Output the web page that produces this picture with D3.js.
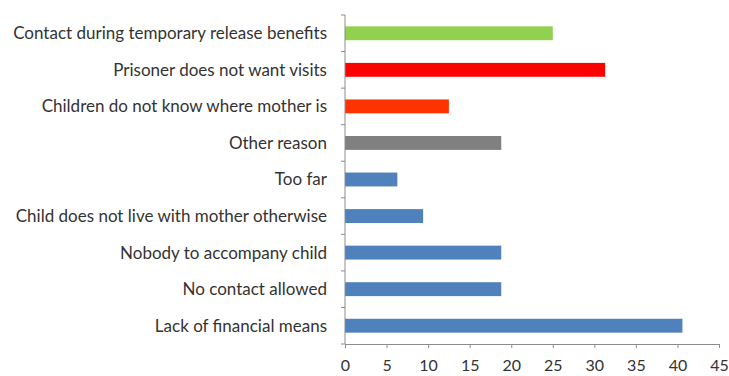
<!DOCTYPE html>
<html>
<head>
<meta charset="utf-8">
<script src="https://cdn.jsdelivr.net/npm/d3@7"></script>
<style>
  html, body { margin: 0; padding: 0; background: #fff; }
  svg { display: block; }
  text { font-family: Lato, "Open Sans", sans-serif; fill: #333; }
</style>
</head>
<body>
<svg id="chart" width="729" height="376"></svg>
<script>
// Reasons for lack of visits (percent), bottom to top as drawn
const categories = [
  "Lack of financial means",
  "No contact allowed",
  "Nobody to accompany child",
  "Child does not live with mother otherwise",
  "Too far",
  "Other reason",
  "Children do not know where mother is",
  "Prisoner does not want visits",
  "Contact during temporary release benefits"
];
const values = [40.6, 18.8, 18.8, 9.4, 6.3, 18.8, 12.5, 31.3, 25.0];
const barColors = ["#4f81bd", "#4f81bd", "#4f81bd", "#4f81bd", "#4f81bd",
                   "#808080", "#ff3300", "#ff0000", "#92d050"];
const xTicks = [0, 5, 10, 15, 20, 25, 30, 35, 40, 45];

const svg = d3.select("#chart");
const plot = { left: 345, right: 719, top: 15, bottom: 344 };

const x = d3.scaleLinear().domain([0, 45]).range([plot.left, plot.right]);
const y = d3.scaleBand()
  .domain(categories.slice().reverse())
  .range([plot.top, plot.bottom])
  .paddingInner(0.62)
  .paddingOuter(0.31);

const rows = categories.map((c, i) => ({ c, v: values[i], col: barColors[i] }));

svg.append("g").selectAll("rect").data(rows).join("rect")
  .attr("x", x(0))
  .attr("y", d => y(d.c))
  .attr("width", d => x(d.v) - x(0))
  .attr("height", y.bandwidth())
  .attr("fill", d => d.col);

// x axis
const xAxis = svg.append("g")
  .attr("transform", `translate(0,${plot.bottom})`)
  .call(d3.axisBottom(x).tickValues(xTicks).tickSize(4).tickPadding(12));
xAxis.select(".domain").attr("stroke", "#8c8c8c");
xAxis.selectAll(".tick line").attr("stroke", "#8c8c8c");
xAxis.selectAll("text").attr("font-size", 16).style("fill", "#333")
  .attr("font-family", "Lato, sans-serif");

// y axis line with ticks between categories
const step = (plot.bottom - plot.top) / categories.length;
const yBounds = d3.range(categories.length + 1).map(i => plot.top + i * step);
svg.append("line")
  .attr("x1", x(0)).attr("x2", x(0))
  .attr("y1", plot.top).attr("y2", plot.bottom)
  .attr("stroke", "#8c8c8c");
svg.append("g").selectAll("line").data(yBounds).join("line")
  .attr("x1", x(0) - 4).attr("x2", x(0))
  .attr("y1", d => d).attr("y2", d => d)
  .attr("stroke", "#8c8c8c");

// category labels
svg.append("g").selectAll("text").data(rows).join("text")
  .attr("x", 327)
  .attr("y", d => y(d.c) + y.bandwidth() / 2)
  .attr("dy", "0.35em")
  .attr("text-anchor", "end")
  .attr("font-size", 17)
  .text(d => d.c);
</script>
</body>
</html>
